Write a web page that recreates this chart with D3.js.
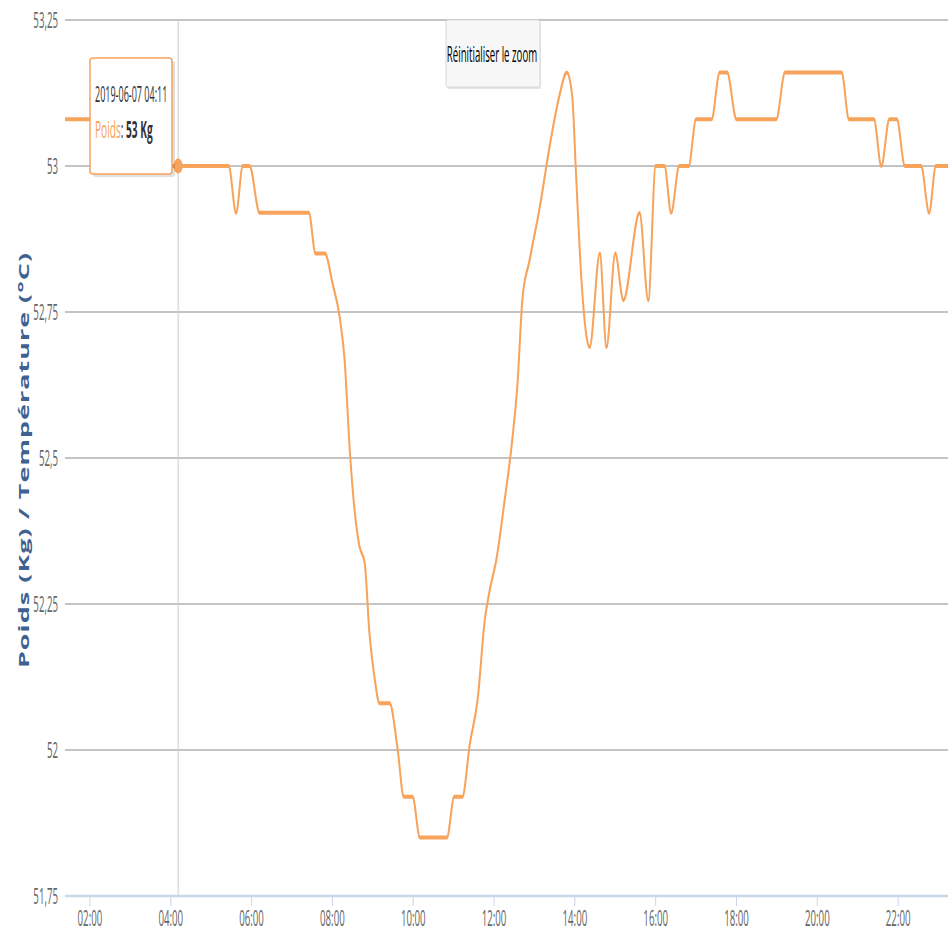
<!DOCTYPE html>
<html>
<head>
<meta charset="utf-8">
<script src="https://cdn.jsdelivr.net/npm/d3@7"></script>
<style>
  html, body { margin: 0; padding: 0; background: #fff; }
  svg { display: block; }
  text { font-family: "Open Sans", "DejaVu Sans", sans-serif; }
</style>
</head>
<body>
<svg id="chart" width="950" height="931"></svg>
<script>
// weight readings, 2019-06-07 (time "HH:MM", kg)
const times = ["01:23","03:45","04:00","04:12","05:26","05:37","05:47","05:57","06:12","07:25",
  "07:35","07:49","08:00","08:11","08:18","08:26","08:33","08:40","08:48","08:55",
  "09:03","09:10","09:25","09:37","09:46","09:59","10:10","10:50","11:01","11:13",
  "11:24","11:36","11:46","11:53","12:04","12:16","12:26","12:35","12:42","12:53",
  "13:08","13:22","13:37","13:48","13:56","14:02","14:10","14:22","14:37","14:47",
  "15:00","15:12","15:36","15:49","16:00","16:13","16:23","16:35","16:49","17:00",
  "17:23","17:35","17:46","18:00","18:59","19:12","20:36","20:47","21:24","21:35",
  "21:47","21:58","22:10","22:34","22:46","22:56","23:14"];
const poids = [53.08,53.08,53.0,53.0,53.0,52.92,53.0,53.0,52.92,52.92,
  52.85,52.85,52.80,52.74,52.67,52.51,52.41,52.35,52.32,52.20,
  52.12,52.08,52.08,52.0,51.92,51.92,51.85,51.85,51.92,51.92,
  52.01,52.09,52.22,52.27,52.33,52.43,52.52,52.63,52.77,52.84,
  52.93,53.03,53.12,53.16,53.12,52.98,52.80,52.69,52.85,52.69,
  52.85,52.77,52.92,52.77,53.0,53.0,52.92,53.0,53.0,53.08,
  53.08,53.16,53.16,53.08,53.08,53.16,53.16,53.08,53.08,53.0,
  53.08,53.08,53.0,53.0,52.92,53.0,53.0];
const yTicks = [51.75, 52, 52.25, 52.5, 52.75, 53, 53.25];
const xTickLabels = ["02:00","04:00","06:00","08:00","10:00","12:00","14:00","16:00","18:00","20:00","22:00"];
const hoverTime = "04:11";
const hoverValue = 53;

const parse = d3.timeParse("%Y-%m-%d %H:%M");
const day = "2019-06-07 ";
const data = times.map((t, i) => ({ t: parse(day + t), v: poids[i] }));

const svg = d3.select("#chart");
const plotLeft = 65, plotRight = 948, plotTop = 20, plotBottom = 896;
const squeeze = 0.44; // the original picture is stretched tall, text looks condensed
const stretch = 2;    // same stretch applied to the series stroke

const x = d3.scaleTime()
  .domain([parse(day + "01:23"), parse(day + "23:14")])
  .range([plotLeft, plotRight]);
const y = d3.scaleLinear().domain([51.75, 53.25]).range([plotBottom, plotTop]);

function label(g, px, py, str, anchor, sx) {
  return g.append("text")
    .attr("transform", `translate(${px},${py}) scale(${sx || squeeze},1)`)
    .attr("text-anchor", anchor || "middle")
    .text(str);
}

// grid lines
svg.append("g").selectAll("line")
  .data(yTicks.filter(d => d > 51.75))
  .enter().append("line")
  .attr("x1", plotLeft).attr("x2", plotRight)
  .attr("y1", d => y(d)).attr("y2", d => y(d))
  .attr("stroke", "#c4c4c4").attr("stroke-width", 2);

// y labels
const yl = svg.append("g").attr("fill", "#666").attr("font-size", 22);
yTicks.forEach(d => {
  label(yl, 58, y(d) + 8, String(d).replace(".", ","), "end");
});

// y title
svg.append("text")
  .attr("transform", `translate(29,460) scale(0.5,1) rotate(-90)`)
  .attr("text-anchor", "middle")
  .attr("fill", "#3f6190")
  .attr("font-size", 27)
  .attr("font-weight", "bold")
  .attr("letter-spacing", 1)
  .text("Poids (Kg) / Température (°C)");

// x axis
const xTicks = xTickLabels.map(s => parse(day + s));
const xa = svg.append("g");
xa.append("line").attr("x1", plotLeft).attr("x2", plotRight)
  .attr("y1", plotBottom).attr("y2", plotBottom)
  .attr("stroke", "#ccd6eb").attr("stroke-width", 2.5);
xa.selectAll(".tick").data(xTicks).enter().append("line")
  .attr("x1", d => x(d)).attr("x2", d => x(d))
  .attr("y1", plotBottom).attr("y2", plotBottom + 10)
  .attr("stroke", "#ccd6eb").attr("stroke-width", 1);
const xl = xa.append("g").attr("fill", "#666").attr("font-size", 22);
xTicks.forEach((d, i) => label(xl, x(d), plotBottom + 30, xTickLabels[i]));

// crosshair
const ht = parse(day + hoverTime);
svg.append("line")
  .attr("x1", x(ht)).attr("x2", x(ht))
  .attr("y1", plotTop).attr("y2", plotBottom)
  .attr("stroke", "#cccccc").attr("stroke-width", 1);

// series, drawn in a vertically stretched group so flat parts look thicker
const line = d3.line().x(d => x(d.t)).y(d => y(d.v) / stretch).curve(d3.curveMonotoneX);
svg.append("g").attr("transform", `scale(1,${stretch})`)
  .append("path").datum(data)
  .attr("d", line)
  .attr("fill", "none")
  .attr("stroke", "#f7a35c")
  .attr("stroke-width", 2)
  .attr("stroke-linejoin", "round");

// hover marker
svg.append("ellipse")
  .attr("cx", x(ht)).attr("cy", y(hoverValue))
  .attr("rx", 4.5).attr("ry", 7.5)
  .attr("fill", "#f7a35c");

// tooltip
const tip = svg.append("g");
tip.append("rect").attr("x", 93).attr("y", 61).attr("width", 82).attr("height", 116)
  .attr("rx", 3).attr("fill", "#000").attr("opacity", 0.12);
tip.append("rect").attr("x", 90).attr("y", 58).attr("width", 82).attr("height", 116)
  .attr("rx", 3).attr("fill", "#fff").attr("stroke", "#f7a35c").attr("stroke-width", 1.5);
label(tip, 95, 102, "2019-06-07 " + hoverTime, "start", 0.41).attr("font-size", 22).attr("fill", "#333");
const t2 = tip.append("text")
  .attr("transform", `translate(95,138) scale(${squeeze},1)`)
  .attr("text-anchor", "start").attr("font-size", 23);
t2.append("tspan").attr("fill", "#f7a35c").text("Poids");
t2.append("tspan").attr("fill", "#333").text(": ");
t2.append("tspan").attr("fill", "#333").attr("font-weight", "bold").text(hoverValue + " Kg");

// reset zoom button
const btn = svg.append("g");
btn.append("rect").attr("x", 447).attr("y", 22).attr("width", 94).attr("height", 67)
  .attr("rx", 2).attr("fill", "#000").attr("opacity", 0.1);
btn.append("rect").attr("x", 446).attr("y", 20).attr("width", 94).attr("height", 67)
  .attr("rx", 2).attr("fill", "#f7f7f7").attr("stroke", "#d8d8d8");
label(btn, 492, 62, "Réinitialiser le zoom").attr("font-size", 22).attr("fill", "#000");
</script>
</body>
</html>
